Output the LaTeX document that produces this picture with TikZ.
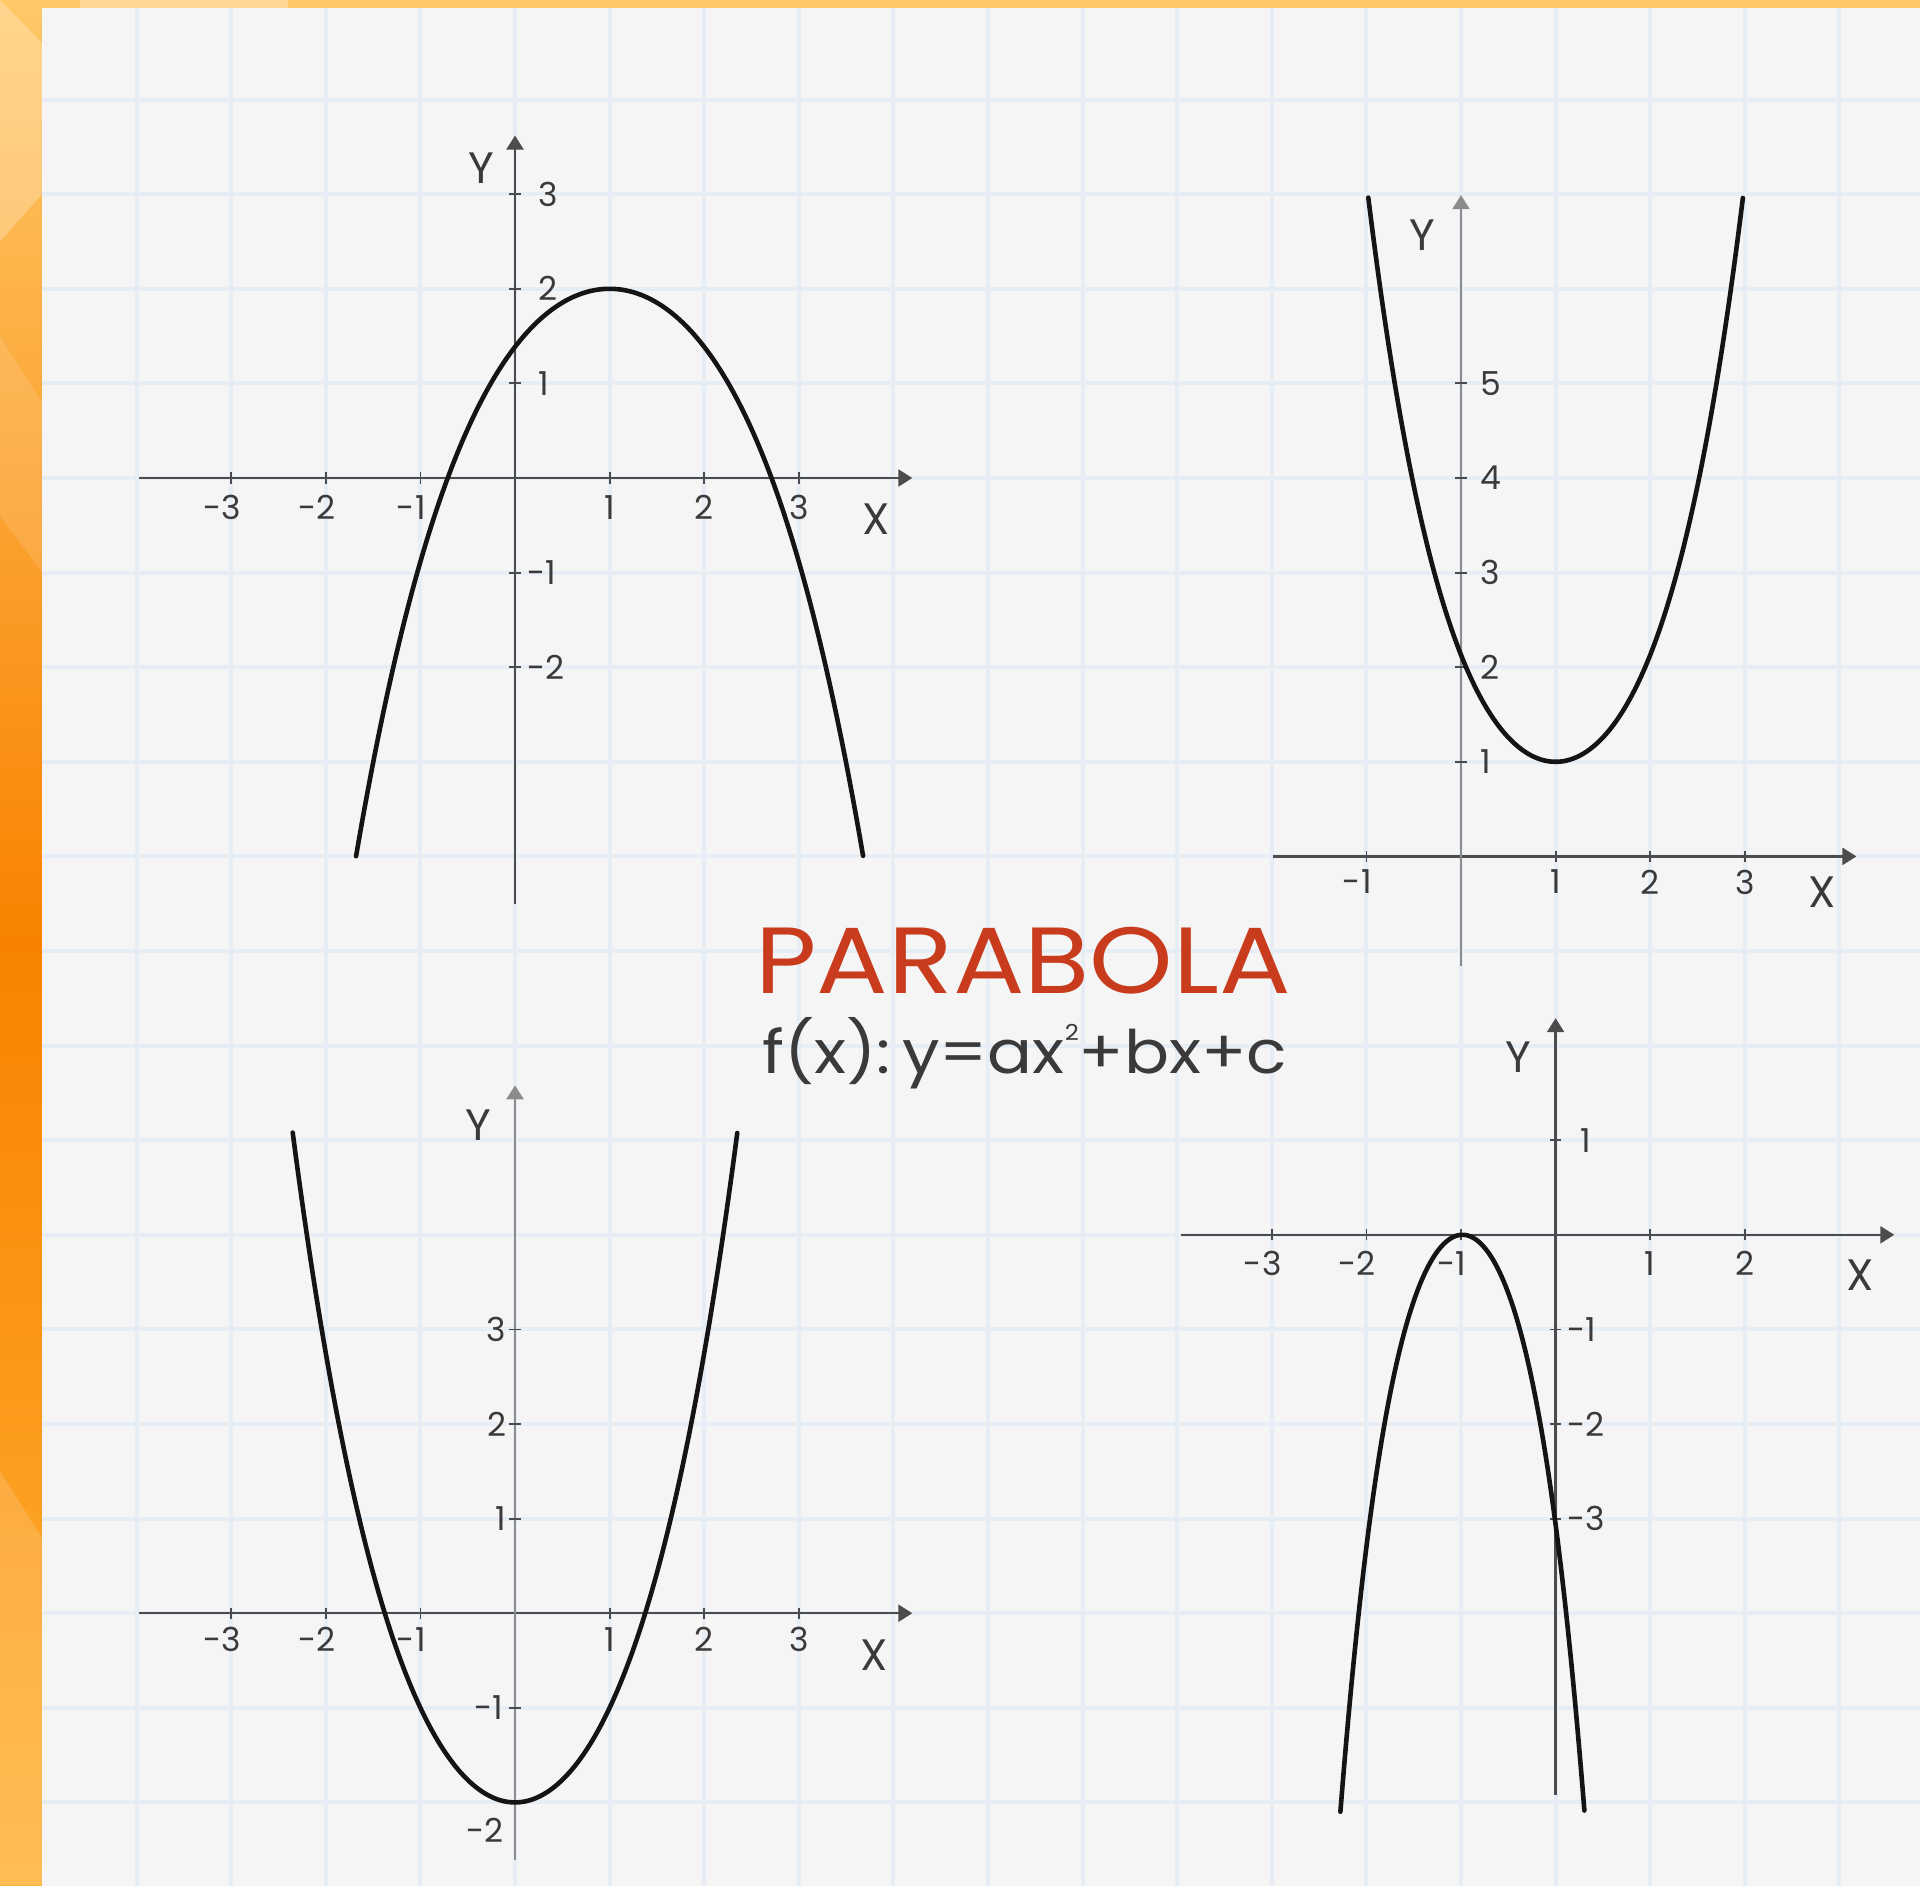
\documentclass[tikz,border=0pt]{standalone}
\usepackage{fontspec}
\setmainfont{Poppins}
\usetikzlibrary{arrows.meta}
\definecolor{paper}{HTML}{F5F5F5}
\definecolor{gridc}{HTML}{E6EDF4}
\definecolor{axdark}{HTML}{4C4C4C}
\definecolor{axgray}{HTML}{8C8C8C}
\definecolor{labc}{HTML}{3A3A3A}
\definecolor{titlec}{HTML}{C83C1D}
\definecolor{orT}{HTML}{FFC868}
\definecolor{orM}{HTML}{F88200}
\definecolor{orB}{HTML}{FFB338}
\tikzset{
 axisline/.style={line width=1.2pt, draw=axdark, -{Triangle[length=7pt,width=8.5pt]}},
 yaxgray/.style={draw=axgray},
 tickmark/.style={line width=0.9pt, draw=axdark},
 curve/.style={line width=2.3pt, draw=black!92, line cap=round},
 xlab/.style={font=\fontsize{16.5}{18}\selectfont, text=labc, inner sep=0pt},
 ylabr/.style={xlab, anchor=west},
 ylabl/.style={xlab, anchor=east},
 axname/.style={font=\fontsize{22}{24}\selectfont, text=labc, inner sep=0pt},
 gridline/.style={line width=2pt, draw=gridc},
}
\begin{document}
\begin{tikzpicture}[x=47.3pt,y=47.3pt]
\useasboundingbox (-5.444,-14.8732) rectangle (14.852,5.0529);
% orange frame
\shade[top color=orT, bottom color=orB, middle color=orM] (-5.444,-14.8732) rectangle (14.852,5.0529);
\begin{scope}
 \clip (-5.444,-14.8732) rectangle (-5.0,5.0529);
 \fill[white,opacity=0.25] (-5.444,5.0529) -- (-5.0,4.6) -- (-5.0,3.0) -- (-5.444,2.5) -- cycle;
 \fill[white,opacity=0.12] (-5.444,1.5) -- (-5.0,0.8) -- (-5.0,-1.0) -- (-5.444,-0.4) -- cycle;
 \fill[white,opacity=0.15] (-5.444,-10.5) -- (-5.0,-11.2) -- (-5.0,-14.8732) -- (-5.444,-14.8732) -- cycle;
\end{scope}
\fill[white,opacity=0.3] (-4.6,4.96) rectangle (-2.4,5.0529);
% paper
\fill[paper] (-5.0,-15.0) rectangle (15.0,4.9683);
% grid
\foreach \i in {-4,...,14} \draw[gridline] (\i,-15.0) -- (\i,4.9683);
\foreach \j in {-14,...,4} \draw[gridline] (-5.0,\j) -- (15.0,\j);

% ---------- Chart 1 ----------
\begin{scope}
 \draw[axisline] (-3.97,0) -- (4.2,0);
 \draw[axisline] (0,-4.5) -- (0,3.62);
 \foreach \v in {-3,-2,-1,1,2,3} \draw[tickmark] (\v,-0.06) -- (\v,0.06);
 \foreach \v in {-2,-1,1,2,3} \draw[tickmark] (-0.06,\v) -- (0.06,\v);
 \foreach \v/\t/\n in {-3/\llap{-}3/a,-2/\llap{-}2/b,-1/\llap{-}1/c,1/1/d,2/2/e,3/3/f}
   \node[xlab] (ax\n) at (\v,-0.31) {\t};
 \foreach \v/\n in {3/a,2/b,1/c} \node[ylabr] (ay\n) at (0.24,\v) {\v};
 \foreach \v/\n in {-1/d,-2/e} \node[ylabr] (ay\n) at (0.13,\v) {\v};
 \node[axname] (aY) at (-0.36,3.27) {Y};
 \node[axname] (aX) at (3.82,-0.43) {X};
 \draw[curve] plot[domain=-1.68:3.68,samples=160,smooth]
   (\x,{2-0.578*(\x-1)*(\x-1)-0.0358*(\x-1)*(\x-1)*(\x-1)*(\x-1)});
\end{scope}

% ---------- Chart 2 ----------
\begin{scope}[shift={(10,-4)}]
 \draw[axisline] (-1.99,0) -- (4.18,0);
 \draw[axisline,yaxgray] (0,-1.16) -- (0,6.99);
 \foreach \v in {-1,1,2,3} \draw[tickmark] (\v,-0.06) -- (\v,0.06);
 \foreach \v in {1,2,3,4,5} \draw[tickmark] (-0.06,\v) -- (0.06,\v);
 \foreach \v/\t/\n in {-1/\llap{-}1/a,1/1/b,2/2/c,3/3/d}
   \node[xlab] (bx\n) at (\v,-0.27) {\t};
 \foreach \v/\n in {1/a,2/b,3/c,4/d,5/e} \node[ylabr] (by\n) at (0.2,\v) {\v};
 \node[axname] (bY) at (-0.41,6.57) {Y};
 \node[axname] (bX) at (3.82,-0.38) {X};
 \draw[curve] plot[domain=-0.98:2.98,samples=160,smooth]
   (\x,{1+0.996*(\x-1)*(\x-1)+0.134*(\x-1)*(\x-1)*(\x-1)*(\x-1)});
\end{scope}

% ---------- Chart 3 ----------
\begin{scope}[shift={(0,-12)}]
 \draw[axisline] (-3.97,0) -- (4.2,0);
 \draw[axisline,yaxgray] (0,-2.61) -- (0,5.58);
 \foreach \v in {-3,-2,-1,1,2,3} \draw[tickmark] (\v,-0.06) -- (\v,0.06);
 \foreach \v in {-2,-1,1,2,3} \draw[tickmark] (-0.06,\v) -- (0.06,\v);
 \foreach \v/\t/\n in {-3/\llap{-}3/a,-2/\llap{-}2/b,-1/\llap{-}1/c,1/1/d,2/2/e,3/3/f}
   \node[xlab] (cx\n) at (\v,-0.28) {\t};
 \foreach \v/\n in {3/a,2/b,1/c} \node[ylabl] (cy\n) at (-0.09,\v) {\v};
 \node[ylabl] (cyd) at (-0.12,-1) {-1};
 \node[ylabl] (cye) at (-0.12,-2.29) {-2};
 \node[axname] (cY) at (-0.39,5.16) {Y};
 \node[axname] (cX) at (3.80,-0.44) {X};
 \draw[curve] plot[domain=-2.35:2.35,samples=160,smooth]
   (\x,{-2+0.9376*\x*\x+0.0624*\x*\x*\x*\x});
\end{scope}

% ---------- Chart 4 ----------
\begin{scope}[shift={(11,-8)}]
 \draw[axisline] (-3.96,0) -- (3.58,0);
 \draw[axisline] (0,-5.92) -- (0,2.29);
 \foreach \v in {-3,-2,-1,1,2} \draw[tickmark] (\v,-0.06) -- (\v,0.06);
 \foreach \v in {1,-1,-2,-3} \draw[tickmark] (-0.06,\v) -- (0.06,\v);
 \foreach \v/\t/\n in {-3/\llap{-}3/a,-2/\llap{-}2/b,-1/\llap{-}1/c,1/1/d,2/2/e}
   \node[xlab] (dx\n) at (\v,-0.3) {\t};
 \node[ylabr] (dya) at (0.26,1) {1};
 \foreach \v/\n in {-1/b,-2/c,-3/d} \node[ylabr] (dy\n) at (0.12,\v) {\v};
 \node[axname] (dY) at (-0.39,1.88) {Y};
 \node[axname] (dX) at (3.22,-0.43) {X};
 \draw[curve] plot[domain=-2.275:0.305,samples=160,smooth]
   (\x,{-(2.45*(\x+0.985)*(\x+0.985)+0.73*(\x+0.985)*(\x+0.985)*(\x+0.985)*(\x+0.985))});
\end{scope}

% ---------- Title ----------
\node[anchor=base, inner sep=0pt, text=titlec, font=\fontsize{47}{50}\selectfont] (title) at (5.37,-5.45) {\scalebox{1.13}[1]{PARABOLA}};
\node[anchor=base, inner sep=0pt, text=labc, font=\fontsize{30}{32}\selectfont] (formula) at (5.39,-6.30)
  {\scalebox{1.11}[1]{f(x):\,y=ax\raisebox{0.55em}{\fontsize{11}{12}\selectfont 2}+bx+c}};
\end{tikzpicture}
\end{document}
